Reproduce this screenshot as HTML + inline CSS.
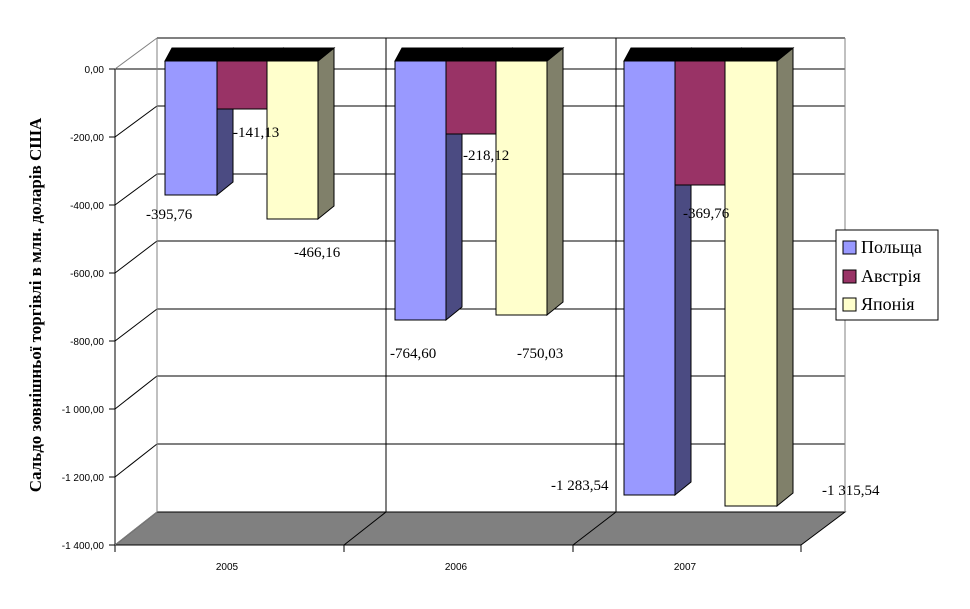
<!DOCTYPE html>
<html><head><meta charset="utf-8"><style>body{margin:0;background:#fff}</style></head><body>
<svg width="970" height="604" xmlns="http://www.w3.org/2000/svg" font-family="Liberation Serif, serif">
<rect width="970" height="604" fill="#fff"/>
<!-- floor -->
<polygon points="115,545 801,545 845,512 157,512" fill="#808080" stroke="#000" stroke-width="1"/>
<!-- back wall lines -->
<g stroke="#000" stroke-width="1">
<line x1="157" y1="38" x2="845" y2="38"/>
<line x1="157" y1="106" x2="845" y2="106"/>
<line x1="157" y1="174" x2="845" y2="174"/>
<line x1="157" y1="241" x2="845" y2="241"/>
<line x1="157" y1="309" x2="845" y2="309"/>
<line x1="157" y1="376" x2="845" y2="376"/>
<line x1="157" y1="444" x2="845" y2="444"/>
<line x1="115" y1="69" x2="845" y2="69"/>
<line x1="115" y1="137" x2="157" y2="106"/>
<line x1="115" y1="205" x2="157" y2="174"/>
<line x1="115" y1="273" x2="157" y2="241"/>
<line x1="115" y1="341" x2="157" y2="309"/>
<line x1="115" y1="409" x2="157" y2="376"/>
<line x1="115" y1="477" x2="157" y2="444"/>
<line x1="386" y1="38" x2="386" y2="512"/>
<line x1="616" y1="38" x2="616" y2="512"/>
<line x1="344" y1="545" x2="386" y2="512"/>
<line x1="573" y1="545" x2="616" y2="512"/>
<line x1="115" y1="69" x2="115" y2="545"/>
<line x1="115" y1="545" x2="801" y2="545"/>
<line x1="115" y1="545" x2="115" y2="552"/><line x1="344" y1="545" x2="344" y2="552"/><line x1="573" y1="545" x2="573" y2="552"/><line x1="801" y1="545" x2="801" y2="552"/>
</g>
<g stroke="#808080" stroke-width="1">
<line x1="157" y1="38" x2="157" y2="512"/>
<line x1="845" y1="38" x2="845" y2="512"/>
<line x1="115" y1="69" x2="157" y2="38"/>
<line x1="115" y1="545" x2="157" y2="512"/>
</g>
<g stroke="#000" stroke-width="1">
<line x1="109" y1="69" x2="115" y2="69"/><line x1="109" y1="137" x2="115" y2="137"/><line x1="109" y1="205" x2="115" y2="205"/><line x1="109" y1="273" x2="115" y2="273"/><line x1="109" y1="341" x2="115" y2="341"/><line x1="109" y1="409" x2="115" y2="409"/><line x1="109" y1="477" x2="115" y2="477"/><line x1="109" y1="545" x2="115" y2="545"/>
</g>
<!-- bars -->
<g stroke="#000" stroke-width="1">
<!-- 2005 -->
<polygon points="217,61 233,48 233,182 217,195" fill="#4b4b82"/>
<polygon points="267,61 283,48 283,96 267,109" fill="#5c2040"/>
<polygon points="318,61 334,48 334,206 318,219" fill="#80806a"/>
<rect x="165" y="61" width="52" height="134" fill="#9999ff"/>
<rect x="217" y="61" width="50" height="48" fill="#993366"/>
<rect x="267" y="61" width="51" height="158" fill="#ffffcc"/>
<polygon points="165,61 172,48 334,48 318,61" fill="#000"/>
<!-- 2006 -->
<polygon points="446,61 462,48 462,307 446,320" fill="#4b4b82"/>
<polygon points="496,61 512,48 512,121 496,134" fill="#5c2040"/>
<polygon points="547,61 563,48 563,302 547,315" fill="#80806a"/>
<rect x="395" y="61" width="51" height="259" fill="#9999ff"/>
<rect x="446" y="61" width="50" height="73" fill="#993366"/>
<rect x="496" y="61" width="51" height="254" fill="#ffffcc"/>
<polygon points="395,61 402,48 563,48 547,61" fill="#000"/>
<!-- 2007 -->
<polygon points="675,61 691,48 691,482 675,495" fill="#4b4b82"/>
<polygon points="725,61 741,48 741,172 725,185" fill="#5c2040"/>
<polygon points="777,61 793,48 793,493 777,506" fill="#80806a"/>
<rect x="624" y="61" width="51" height="434" fill="#9999ff"/>
<rect x="675" y="61" width="50" height="124" fill="#993366"/>
<rect x="725" y="61" width="52" height="445" fill="#ffffcc"/>
<polygon points="624,61 631,48 793,48 777,61" fill="#000"/>
</g>
<!-- y labels -->
<g font-family="Liberation Sans, sans-serif" font-size="10" text-anchor="end">
<text x="104" y="73">0,00</text><text x="104" y="141">-200,00</text><text x="104" y="209">-400,00</text><text x="104" y="277">-600,00</text><text x="104" y="345">-800,00</text><text x="104" y="413">-1 000,00</text><text x="104" y="481">-1 200,00</text><text x="104" y="549">-1 400,00</text>
</g>
<g font-family="Liberation Sans, sans-serif" font-size="10" text-anchor="middle">
<text x="227" y="570">2005</text><text x="456" y="570">2006</text><text x="685" y="570">2007</text>
</g>
<text transform="translate(41,305) rotate(-90)" font-size="17" font-weight="bold" text-anchor="middle">Сальдо зовнішньої торгівлі в млн. доларів США</text>
<g font-size="15">
<text x="146" y="219">-395,76</text><text x="233" y="137">-141,13</text><text x="294" y="257">-466,16</text>
<text x="390" y="358">-764,60</text><text x="463" y="160">-218,12</text><text x="517" y="358">-750,03</text>
<text x="551" y="490">-1 283,54</text><text x="683" y="218">-369,76</text><text x="822" y="495">-1 315,54</text>
</g>
<rect x="836" y="230" width="102" height="90" fill="#fff" stroke="#000"/>
<rect x="843" y="241" width="13" height="13" fill="#9999ff" stroke="#000"/>
<rect x="843" y="270" width="13" height="13" fill="#993366" stroke="#000"/>
<rect x="843" y="298" width="13" height="13" fill="#ffffcc" stroke="#000"/>
<g font-size="18"><text x="861" y="253">Польща</text><text x="861" y="282">Австрія</text><text x="861" y="310">Японія</text></g>
</svg>
</body></html>
